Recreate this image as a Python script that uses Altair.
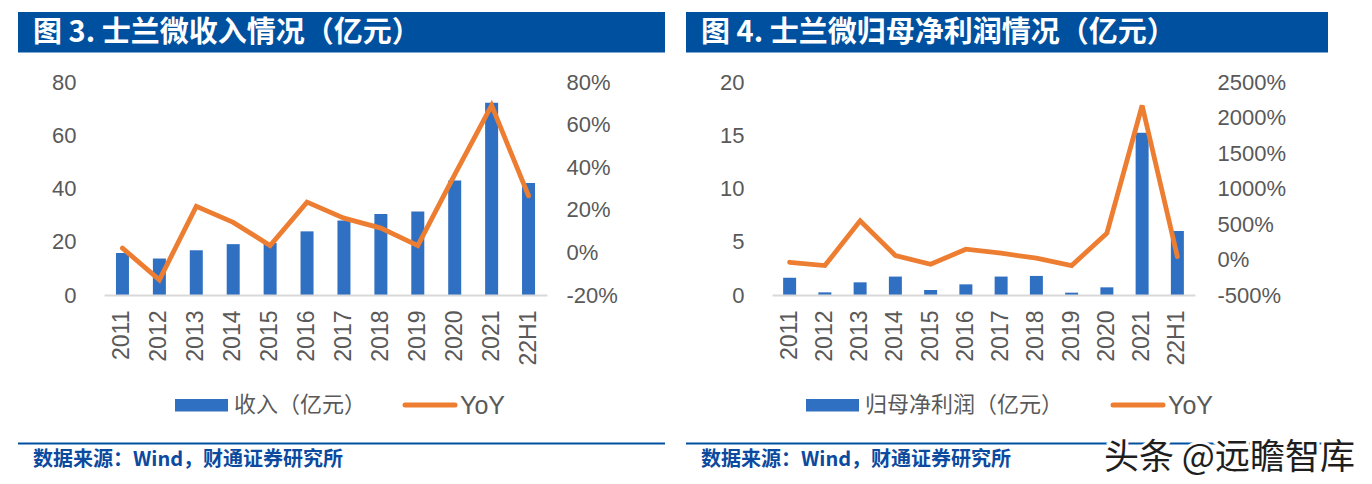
import altair as alt
import pandas as pd

years = ["2011", "2012", "2013", "2014", "2015", "2016", "2017", "2018", "2019", "2020", "2021", "22H1"]

revenue = [15.8, 13.7, 16.8, 19.1, 19.6, 23.9, 28.0, 30.4, 31.4, 43.0, 72.2, 42.1]
revenue_yoy = [0.020, -0.129, 0.216, 0.141, 0.032, 0.236, 0.161, 0.114, 0.032, 0.365, 0.690, 0.266]

profit = [1.62, 0.25, 1.19, 1.73, 0.47, 1.00, 1.73, 1.79, 0.22, 0.72, 15.24, 6.02]
profit_yoy = [-0.39, -0.86, 5.45, 0.56, -0.67, 1.45, 0.89, 0.18, -0.86, 3.71, 21.69, 0.41]

rev_ticks = [0, 20, 40, 60, 80]
rev_yoy_ticks = [-0.2, 0.0, 0.2, 0.4, 0.6, 0.8]
prof_ticks = [0, 5, 10, 15, 20]
prof_yoy_ticks = [-5, 0, 5, 10, 15, 20, 25]

title_left = "图 3. 士兰微收入情况（亿元）"
title_right = "图 4. 士兰微归母净利润情况（亿元）"
legend_left = "收入（亿元）"
legend_right = "归母净利润（亿元）"
legend_yoy = "YoY"
source = "数据来源：Wind，财通证券研究所"
watermark = "头条 @远瞻智库"

BAR = "#3070C2"
ORANGE = "#ED7D31"
HEADER = "#0050A0"
SRC = "#0B4A9E"
GRAY = "#595959"
NUM_FONT = "Liberation Sans"
CJK = "Noto Sans CJK SC"

one = pd.DataFrame({"a": [0]})


def rect(x1, x2, y1, y2, color):
    return alt.Chart(one).mark_rect(color=color).encode(
        x=alt.value(x1), x2=alt.value(x2), y=alt.value(y1), y2=alt.value(y2))


def hline(x1, x2, y, color, w, cap="butt"):
    return alt.Chart(one).mark_rule(color=color, strokeWidth=w, strokeCap=cap).encode(
        x=alt.value(x1), x2=alt.value(x2), y=alt.value(y))


def text(t, x, y, size, color, font, weight="normal", **kw):
    return alt.Chart(one).mark_text(text=t, align="left", baseline="middle", fontSize=size,
                                    color=color, font=font, fontWeight=weight, **kw).encode(
        x=alt.value(x), y=alt.value(y))


def panel(values, yoy, vticks, yticks, title, legend_label, width, height, d):
    df = pd.DataFrame({"year": years, "v": values, "yoy": yoy})
    xenc = alt.X("year:N", sort=years,
                 scale=alt.Scale(paddingInner=0, paddingOuter=0),
                 axis=alt.Axis(title=None, labelAngle=-90, labelFontSize=23, labelColor=GRAY,
                               labelFont=NUM_FONT, labelPadding=15, ticks=False, tickSize=0,
                               domainColor="#D9D9D9", domainWidth=2, grid=False, zindex=1))
    bars = alt.Chart(df).mark_bar(size=13, color=BAR).encode(
        x=xenc,
        y=alt.Y("v:Q", scale=alt.Scale(domain=[vticks[0], vticks[-1]], nice=False, zero=False),
                axis=alt.Axis(title=None, orient="left", values=vticks, grid=False, domain=False,
                              ticks=False, tickSize=0, labelPadding=28, labelFontSize=22,
                              labelColor=GRAY, labelFont=NUM_FONT, zindex=1)))
    line = alt.Chart(df).mark_line(color=ORANGE, strokeWidth=4.8, strokeCap="round").encode(
        x=xenc,
        y=alt.Y("yoy:Q", scale=alt.Scale(domain=[yticks[0], yticks[-1]], nice=False, zero=False),
                axis=alt.Axis(title=None, orient="right", values=yticks,
                              labelExpr="replace(format(datum.value, '.0%'), '\u2212', '-')",
                              grid=False, domain=False, ticks=False, tickSize=0,
                              labelPadding=d["rpad"], labelFontSize=22, labelColor=GRAY,
                              labelFont=NUM_FONT, zindex=1)))
    layers = [
        rect(-96, d["bg_r"], -74, 402, "white"),
        rect(-86, d["hdr_r"], -70, -29.5, HEADER),
        text(title, -71, -49.5, 29, "white", CJK, "bold"),
        rect(d["lg_x"], d["lg_x"] + 53, 317, 329.5, BAR),
        text(legend_label, d["lg_x"] + 59, 323, 22, GRAY, CJK),
        hline(d["ly_x"], d["ly_x"] + 50, 323, ORANGE, 5, "round"),
        text(legend_yoy, d["ly_x"] + 55, 324, 25, GRAY, NUM_FONT),
        hline(-86, d["hdr_r"], 361.5, HEADER, 2),
        text(source, -71, 378, 20, SRC, CJK, "bold"),
    ]
    if d.get("wm") is not None:
        wx, wy = d["wm"]
        layers.append(text(watermark, wx, wy, 35, "white", CJK, stroke="white", strokeWidth=6))
        layers.append(text(watermark, wx, wy, 35, "#1E1E1E", CJK))
    layers += [bars, line]
    return alt.layer(*layers).resolve_scale(y="independent").properties(width=width, height=height)


left = panel(revenue, revenue_yoy, rev_ticks, rev_yoy_ticks, title_left, legend_left,
             443, 213, {"bg_r": 572, "hdr_r": 561, "lg_x": 71, "ly_x": 301, "rpad": 19})
right = panel(profit, profit_yoy, prof_ticks, prof_yoy_ticks, title_right, legend_right,
              423, 213, {"bg_r": 592, "hdr_r": 556, "lg_x": 34, "ly_x": 341, "rpad": 22,
                         "wm": (332, 376)})

chart = alt.hconcat(left, right, spacing=0).properties(
    padding=0, background="white"
).configure_view(strokeWidth=0)

chart.save("out.html", embed_options={"renderer": "svg", "actions": False})
